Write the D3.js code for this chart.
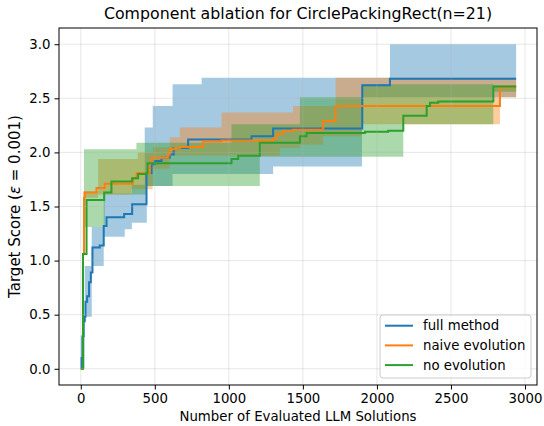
<!DOCTYPE html>
<html><head><meta charset="utf-8">
<script src="https://cdn.jsdelivr.net/npm/d3@7"></script>
<style>body{margin:0;background:#fff}svg{display:block}text{font-family:"DejaVu Sans",sans-serif}</style>
</head><body><svg id="c" width="544" height="426"></svg>
<script>
const xTicks = [0,500,1000,1500,2000,2500,3000];
const yTicks = [0,0.5,1.0,1.5,2.0,2.5,3.0];
const seriesNames = ["full method","naive evolution","no evolution"];
const seriesColors = ["#1f77b4","#ff7f0e","#2ca02c"];

// step lines [x, y]
const fullLine = [[0,0],[5,0.1],[12,0.3],[20,0.44],[27,0.48],[32,0.62],[43,0.67],[56,0.80],[68,0.89],[79,1.12],[128,1.14],[155,1.32],[174,1.40],[293,1.43],[347,1.52],[444,1.81],[478,1.89],[500,1.92],[545,1.95],[601,1.98],[628,2.04],[725,2.12],[1153,2.15],[1299,2.22],[1901,2.62],[2088,2.68],[2940,2.68]];
const naiveLine = [[0,0],[15,1.06],[22,1.58],[27,1.63],[106,1.67],[162,1.71],[353,1.76],[377,1.81],[466,1.90],[478,1.95],[590,1.98],[601,2.03],[635,2.04],[669,2.05],[826,2.10],[951,2.11],[1299,2.13],[1322,2.17],[1367,2.20],[1434,2.21],[1637,2.29],[1721,2.43],[2831,2.60],[2940,2.60]];
const noEvoLine = [[0,0],[15,1.06],[39,1.56],[158,1.63],[207,1.73],[347,1.76],[387,1.80],[444,1.81],[451,1.90],[1018,1.94],[1063,1.97],[1209,2.09],[1480,2.15],[1525,2.18],[1919,2.19],[2076,2.20],[2178,2.34],[2336,2.43],[2358,2.46],[2414,2.47],[2786,2.61],[2940,2.61]];

// step bands [x, low, high]
const fullBand = [[0,0,0.3],[27,0.48,0.95],[74,0.95,1.31],[155,1.22,1.62],[297,1.29,1.62],[345,1.35,1.70],[432,1.35,2.23],[446,1.69,2.23],[486,1.69,2.43],[620,1.80,2.63],[816,1.80,2.69],[1299,1.87,2.69],[1899,2.51,2.69],[2088,2.51,3.0],[2940,2.51,3.0]];
const naiveBand = [[0,0,0],[15,1.0,1.64],[22,1.58,1.64],[117,1.61,1.94],[343,1.66,1.94],[385,1.66,2.0],[486,1.85,2.05],[601,1.97,2.14],[669,1.97,2.23],[951,1.97,2.37],[1345,2.04,2.37],[1434,2.04,2.43],[1480,2.07,2.43],[1637,2.15,2.43],[1721,2.15,2.69],[1899,2.26,2.69],[2831,2.51,2.69],[2940,2.51,2.69]];
const noEvoBand = [[0,0,0],[15,1.0,1.56],[22,1.31,2.03],[162,1.61,2.03],[376,1.61,2.09],[444,1.69,2.09],[1018,1.69,2.26],[1209,1.96,2.26],[1480,1.96,2.51],[1899,1.96,2.63],[2178,2.26,2.63],[2786,2.56,2.62],[2940,2.56,2.62]];

const lines = [fullLine, naiveLine, noEvoLine];
const bands = [fullBand, naiveBand, noEvoBand];

const FS = "13.3px";
const svg = d3.select("#c");
const L=59, R=537, T=28, B=385;
const x = d3.scaleLinear().domain([-147, 3081]).range([L, R]);
const y = d3.scaleLinear().domain([-0.15, 3.15]).range([B, T]);

svg.append("defs").append("clipPath").attr("id","clip").append("rect")
  .attr("x",L).attr("y",T).attr("width",R-L).attr("height",B-T);

const plot = svg.append("g").attr("clip-path","url(#clip)");

// bands
const area = d3.area().curve(d3.curveStepAfter).x(d=>x(d[0])).y0(d=>y(d[1])).y1(d=>y(d[2]));
bands.forEach((b,i)=>{
  plot.append("path").attr("d",area(b)).attr("fill",seriesColors[i]).attr("fill-opacity",0.4).attr("stroke","none");
});

// grid
const grid = svg.append("g");
xTicks.forEach(t=>grid.append("line").attr("x1",x(t)).attr("x2",x(t)).attr("y1",T).attr("y2",B)
  .attr("stroke","#b0b0b0").attr("stroke-opacity",0.3).attr("stroke-width",1));
yTicks.forEach(t=>grid.append("line").attr("y1",y(t)).attr("y2",y(t)).attr("x1",L).attr("x2",R)
  .attr("stroke","#b0b0b0").attr("stroke-opacity",0.3).attr("stroke-width",1));

// lines
const line = d3.line().curve(d3.curveStepAfter).x(d=>x(d[0])).y(d=>y(d[1]));
lines.forEach((l,i)=>{
  plot.append("path").attr("d",line(l)).attr("fill","none").attr("stroke",seriesColors[i]).attr("stroke-width",2);
});

// axes
const xAxis = d3.axisBottom(x).tickValues(xTicks).tickSize(4.5).tickPadding(4).tickFormat(d3.format("d"));
const yAxis = d3.axisLeft(y).tickValues(yTicks).tickSize(4.5).tickPadding(4).tickFormat(d3.format(".1f"));
const gx = svg.append("g").attr("transform",`translate(0,${B})`).call(xAxis);
const gy = svg.append("g").attr("transform",`translate(${L},0)`).call(yAxis);
[gx,gy].forEach(g=>{
  g.select(".domain").remove();
  g.selectAll(".tick line").attr("stroke","#000").attr("stroke-width",1);
  g.selectAll(".tick text").attr("font-size",FS).attr("fill","#000").attr("font-family","DejaVu Sans");
});
svg.append("rect").attr("x",L).attr("y",T).attr("width",R-L).attr("height",B-T)
  .attr("fill","none").attr("stroke","#000").attr("stroke-width",1);

// titles
svg.append("text").attr("x",(L+R)/2).attr("y",19).attr("text-anchor","middle")
  .attr("font-size","15.8px").text("Component ablation for CirclePackingRect(n=21)");
svg.append("text").attr("x",(L+R)/2).attr("y",421).attr("text-anchor","middle")
  .attr("font-size",FS).text("Number of Evaluated LLM Solutions");
const yl = svg.append("text").attr("transform",`translate(20,${(T+B)/2}) rotate(-90)`).attr("text-anchor","middle")
  .attr("font-size","15px");
yl.append("tspan").text("Target Score (");
yl.append("tspan").attr("font-style","italic").text("ε");
yl.append("tspan").text(" = 0.001)");

// legend
const lg = svg.append("g");
lg.append("rect").attr("x",380).attr("y",315).attr("width",151).attr("height",63).attr("rx",3)
  .attr("fill","#fff").attr("fill-opacity",0.8).attr("stroke","#cccccc").attr("stroke-width",1);
seriesNames.forEach((n,i)=>{
  const yy = 325.7 + i*19.7;
  lg.append("line").attr("x1",385).attr("x2",413).attr("y1",yy).attr("y2",yy).attr("stroke",seriesColors[i]).attr("stroke-width",2);
  lg.append("text").attr("x",423).attr("y",yy+4.6).attr("font-size",FS).text(n);
});
</script></body></html>
